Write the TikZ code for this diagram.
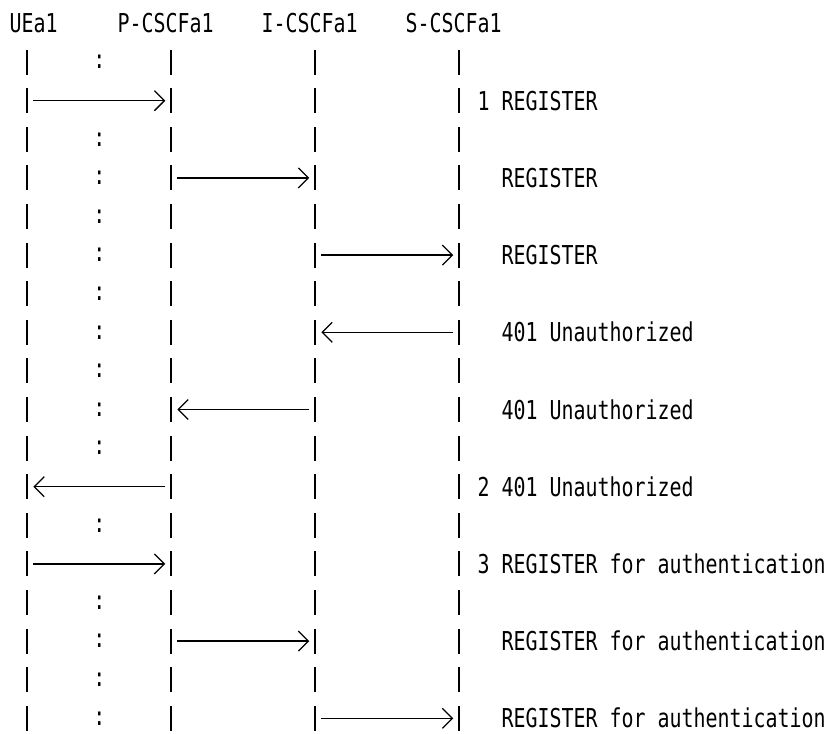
\documentclass[tikz,border=0pt]{standalone}
\usepackage{fontspec}
\setmonofont[FakeStretch=0.767]{DejaVu Sans Mono}
\usetikzlibrary{arrows.meta, positioning}

\begin{document}
\begin{tikzpicture}[
x=1pt, y=-1pt,
lbl/.style={anchor=base west, inner sep=0pt, font=\fontsize{26}{28}\ttfamily},
dots/.style={anchor=center, inner sep=0pt, font=\fontsize{26}{28}\ttfamily},
life/.style={line width=2pt, dash pattern=on 25pt off 13.6pt},
msg/.style={-{Straight Barb[length=10pt, width=20pt]}, line width=1.3pt, shorten <=6pt, shorten >=6pt}
]
\useasboundingbox (0,0) rectangle (829,733);

% lifeline points, one per row
\foreach \n/\x in {ue/27.3, pc/171.3, ic/315.3, sc/459.3} {
  \coordinate (\n-top) at (\x,49.6);
  \coordinate (\n-bot) at (\x,740);
  \foreach \r in {1,...,18}
    \coordinate (\n-\r) at (\x,23.5+38.6*\r);
}

% headers
\node[lbl] (ue) at (9.3,33) {UEa1};
\node[lbl] (pcscf) at (117.3,33) {P-CSCFa1};
\node[lbl] (icscf) at (261.3,33) {I-CSCFa1};
\node[lbl] (scscf) at (405.3,33) {S-CSCFa1};

% lifelines
\draw[life] (ue-top) -- (ue-bot);
\draw[life] (pc-top) -- (pc-bot);
\draw[life] (ic-top) -- (ic-bot);
\draw[life] (sc-top) -- (sc-bot);

% dotted column between UE and P-CSCF
\foreach \r in {1,3,4,5,6,7,8,9,10,11,13,15,16,17,18}
  \node[dots] (colon-\r) at (99.3,23.5+38.6*\r) {:};

% messages
\draw[msg] (ue-2) -- (pc-2);
\draw[msg] (pc-4) -- (ic-4);
\draw[msg] (ic-6) -- (sc-6);
\draw[msg] (sc-8) -- (ic-8);
\draw[msg] (ic-10) -- (pc-10);
\draw[msg] (pc-12) -- (ue-12);
\draw[msg] (ue-14) -- (pc-14);
\draw[msg] (pc-16) -- (ic-16);
\draw[msg] (ic-18) -- (sc-18);

% labels
\node[lbl] (m1) at (477.3,33+38.6*2) {1 REGISTER};
\node[lbl] (m1b) at (501.3,33+38.6*4) {REGISTER};
\node[lbl] (m1c) at (501.3,33+38.6*6) {REGISTER};
\node[lbl] (m2a) at (501.3,33+38.6*8) {401 Unauthorized};
\node[lbl] (m2b) at (501.3,33+38.6*10) {401 Unauthorized};
\node[lbl] (m2) at (477.3,33+38.6*12) {2 401 Unauthorized};
\node[lbl] (m3) at (477.3,33+38.6*14) {3 REGISTER for authentication};
\node[lbl] (m3b) at (501.3,33+38.6*16) {REGISTER for authentication};
\node[lbl] (m3c) at (501.3,33+38.6*18) {REGISTER for authentication};

\end{tikzpicture}
\end{document}
